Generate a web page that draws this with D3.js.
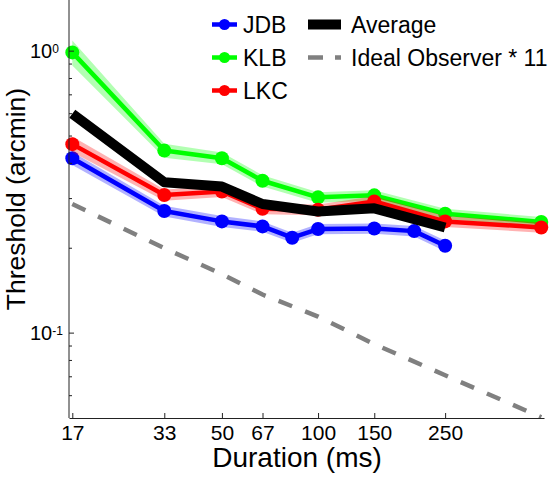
<!DOCTYPE html>
<html><head><meta charset="utf-8">
<script src="https://cdn.jsdelivr.net/npm/d3@7"></script>
<style>body{margin:0;background:#fff}svg{display:block;font-family:"Liberation Sans",Arial,Helvetica,sans-serif}</style>
</head><body><svg id="c" width="550" height="482"></svg>
<script>
// ---- data ----
const xTickValues = [17, 33, 50, 67, 100, 150, 250];
const jdbX = [17, 33, 50, 67, 83, 100, 150, 200, 250];
const jdbY = [0.417, 0.271, 0.249, 0.239, 0.218, 0.234, 0.235, 0.230, 0.204];
const jdbErr = [0.022, 0.012, 0.011, 0.010, 0.009, 0.010, 0.010, 0.010, 0.009];
const klbX = [17, 33, 50, 67, 100, 150, 250, 500];
const klbY = [0.99, 0.444, 0.417, 0.347, 0.303, 0.308, 0.265, 0.248];
const klbErr = [0.10, 0.025, 0.020, 0.016, 0.013, 0.013, 0.011, 0.010];
const lkcX = [17, 33, 50, 67, 100, 150, 250, 500];
const lkcY = [0.468, 0.309, 0.318, 0.276, 0.274, 0.293, 0.249, 0.237];
const lkcErr = [0.030, 0.014, 0.014, 0.012, 0.012, 0.013, 0.011, 0.010];
const avgX = [17, 33, 50, 67, 100, 150, 250];
const avgY = [0.60, 0.343, 0.331, 0.287, 0.270, 0.277, 0.237];
const idealX = [17, 33, 50, 67, 100, 150, 250, 500];
const idealY = [0.287, 0.200, 0.162, 0.137, 0.1145, 0.0914, 0.0709, 0.0503];
const yMajorTicks = [0.1, 1];
const yMajorExp = ["-1", "0"];
const yMinorTicks = [0.06, 0.07, 0.08, 0.09, 0.2, 0.3, 0.4, 0.5, 0.6, 0.7, 0.8, 0.9];

// ---- chart ----
(function () {
const svg = d3.select("#c");
const pLeft = 69, pRight = 544, pTop = 1.5, pBottom = 418;
const xScale = d3.scaleLog().domain([16.6, 510]).range([pLeft, pRight]);
const yScale = d3.scaleLog().domain([0.05, 1.5]).range([pBottom, pTop]);

svg.append("defs").append("clipPath").attr("id", "clip")
  .append("rect").attr("x", pLeft).attr("y", pTop).attr("width", pRight - pLeft).attr("height", pBottom - pTop);

const subjects = [
  {name: "JDB", color: "#0000ff", x: jdbX, y: jdbY, err: jdbErr},
  {name: "KLB", color: "#00ff00", x: klbX, y: klbY, err: klbErr},
  {name: "LKC", color: "#ff0000", x: lkcX, y: lkcY, err: lkcErr}
];

const plot = svg.append("g");
const lineGen = d3.line().x(d => xScale(d.x)).y(d => yScale(d.y));

subjects.forEach(s => {
  const pts = s.x.map((d, i) => ({x: d, y: s.y[i], e: s.err[i]}));
  plot.append("path").datum(pts)
    .attr("d", d3.area().x(d => xScale(d.x)).y0(d => yScale(d.y - d.e)).y1(d => yScale(d.y + d.e)))
    .attr("fill", s.color).attr("fill-opacity", 0.3);
  plot.append("path").datum(pts).attr("d", lineGen)
    .attr("fill", "none").attr("stroke", s.color).attr("stroke-width", 4.5)
    .attr("stroke-linejoin", "round");
  plot.append("g").selectAll("circle").data(pts).enter().append("circle")
    .attr("cx", d => xScale(d.x)).attr("cy", d => yScale(d.y)).attr("r", 7)
    .attr("fill", s.color);
});

const avgPts = avgX.map((d, i) => ({x: d, y: avgY[i]}));
plot.append("path").datum(avgPts).attr("d", lineGen)
  .attr("fill", "none").attr("stroke", "#000").attr("stroke-width", 10)
  .attr("stroke-linejoin", "round");

const idealPts = idealX.map((d, i) => ({x: d, y: idealY[i]}));
plot.append("path").datum(idealPts).attr("d", lineGen)
  .attr("clip-path", "url(#clip)")
  .attr("fill", "none").attr("stroke", "#808080").attr("stroke-width", 4.5)
  .attr("stroke-dasharray", "14.5,14");

// ---- axes ----
const axisColor = "#222";
const xAxis = d3.axisBottom(xScale).tickValues(xTickValues).tickFormat(d3.format("d"))
  .tickSizeInner(-5).tickSizeOuter(0).tickPadding(7);
const gx = svg.append("g").attr("transform", `translate(0,${pBottom})`).call(xAxis);
gx.select(".domain").attr("stroke", axisColor);
gx.selectAll(".tick line").attr("stroke", axisColor);
gx.selectAll(".tick text").attr("font-size", 21).attr("fill", "#000")
  .attr("font-family", '"Liberation Sans",Arial,Helvetica,sans-serif');

const gy = svg.append("g");
gy.append("line").attr("x1", pLeft).attr("x2", pLeft).attr("y1", pTop - 1.5).attr("y2", pBottom).attr("stroke", axisColor);
gy.selectAll(".minor").data(yMinorTicks).enter().append("line")
  .attr("x1", pLeft).attr("x2", pLeft + 3).attr("y1", d => yScale(d)).attr("y2", d => yScale(d))
  .attr("stroke", axisColor);
gy.selectAll(".major").data(yMajorTicks).enter().append("line")
  .attr("x1", pLeft).attr("x2", pLeft + 5).attr("y1", d => yScale(d)).attr("y2", d => yScale(d))
  .attr("stroke", axisColor);
const ylab = gy.selectAll(".lab").data(yMajorTicks).enter().append("text")
  .attr("x", pLeft - 39).attr("y", d => yScale(d) + 7).attr("fill", "#000");
ylab.append("tspan").attr("font-size", 20).text("10");
ylab.append("tspan").attr("font-size", 12).attr("dy", -5).text((d, i) => yMajorExp[i]);

// ---- titles ----
svg.append("text").attr("x", 297).attr("y", 467).attr("text-anchor", "middle")
  .attr("font-size", 28).attr("fill", "#000").text("Duration (ms)");
svg.append("text").attr("transform", "translate(25,199) rotate(-90)").attr("text-anchor", "middle")
  .attr("font-size", 26.5).attr("fill", "#000").text("Threshold (arcmin)");

// ---- legend ----
const legendItems = [
  {name: "JDB", color: "#0000ff", type: "marker", col: 0, row: 0},
  {name: "KLB", color: "#00ff00", type: "marker", col: 0, row: 1},
  {name: "LKC", color: "#ff0000", type: "marker", col: 0, row: 2},
  {name: "Average", color: "#000", type: "thick", col: 1, row: 0},
  {name: "Ideal Observer * 11", color: "#808080", type: "dash", col: 1, row: 1}
];
const colX = [212, 308], rowY0 = 24.5, rowStep = 33, sampleLen = [25, 33];
const lg = svg.append("g");
legendItems.forEach(it => {
  const x0 = colX[it.col], y = rowY0 + it.row * rowStep, L = sampleLen[it.col];
  const ln = lg.append("line").attr("x1", x0).attr("x2", x0 + L).attr("y1", y).attr("y2", y)
    .attr("stroke", it.color);
  if (it.type === "marker") {
    ln.attr("stroke-width", 4.5);
    lg.append("circle").attr("cx", x0 + L / 2).attr("cy", y).attr("r", 5.5).attr("fill", it.color);
  } else if (it.type === "thick") {
    ln.attr("stroke-width", 10);
  } else {
    ln.attr("stroke-width", 4.5).attr("stroke-dasharray", "15,12");
  }
  lg.append("text").attr("x", x0 + L + (it.col === 0 ? 6 : 10)).attr("y", y + 8)
    .attr("font-size", 23).attr("fill", "#000").text(it.name);
});
})();
</script></body></html>
